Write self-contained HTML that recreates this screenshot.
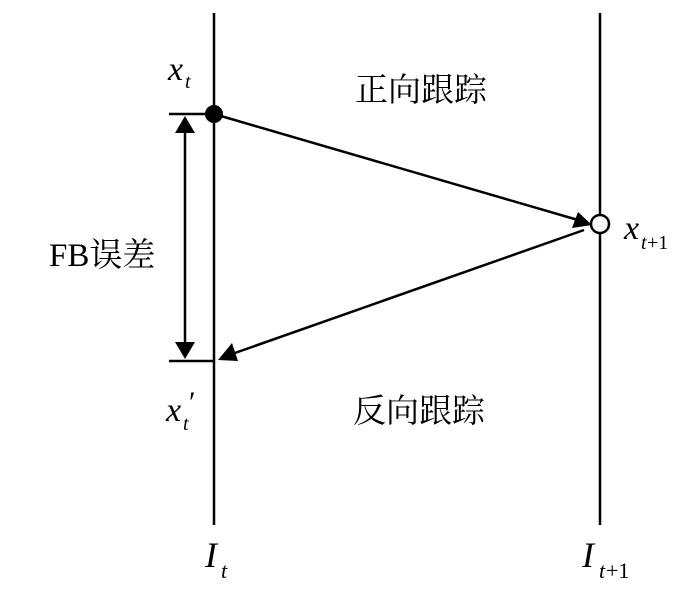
<!DOCTYPE html>
<html><head><meta charset="utf-8"><style>
html,body{margin:0;padding:0;background:#fff;}
svg{display:block;}
.t{font-family:"Liberation Serif","Noto Serif CJK SC",serif;fill:#000;}
.i{font-family:"Liberation Serif",serif;font-style:italic;fill:#000;}
</style></head><body>
<svg width="700" height="603" viewBox="0 0 700 603" xmlns="http://www.w3.org/2000/svg">
<g stroke="#000" stroke-width="2.5" fill="none">
<line x1="214" y1="13" x2="214" y2="525"/>
<line x1="600" y1="13" x2="600" y2="525"/>
<line x1="169" y1="114" x2="214" y2="114"/>
<line x1="169" y1="361" x2="214" y2="361"/>
<line x1="185" y1="128" x2="185" y2="347"/>
<line x1="214" y1="114" x2="578" y2="220"/>
<line x1="584" y1="230" x2="232" y2="354"/>
</g>
<circle cx="214" cy="114" r="9" fill="#000"/>
<circle cx="600" cy="224" r="9" fill="#fff" stroke="#000" stroke-width="2.5"/>
<polygon points="185,116 175,133 195,133" fill="#000"/>
<polygon points="185,359 175,342 195,342" fill="#000"/>
<polygon points="592,225 572,228 578,212" fill="#000"/>
<polygon points="218,360 232,343 238,361" fill="#000"/>
<text class="t" x="355" y="101" font-size="33">正向跟踪</text>
<text class="t" x="353" y="422" font-size="33">反向跟踪</text>
<text class="t" x="49" y="266" font-size="33">FB误差</text>
<text class="i" x="168" y="80" font-size="34">x</text>
<text class="i" x="185" y="88" font-size="20">t</text>
<text class="i" x="166" y="421" font-size="34">x</text>
<text class="i" x="183" y="430" font-size="20">t</text>
<text class="t" x="189" y="412" font-size="30">′</text>
<text class="i" x="624" y="239" font-size="34">x</text>
<text class="i" x="641" y="249" font-size="20">t</text>
<text class="t" x="647" y="249" font-size="20">+1</text>
<text class="i" x="205" y="567" font-size="36">I</text>
<text class="i" x="221" y="578" font-size="22">t</text>
<text class="i" x="582" y="567" font-size="36">I</text>
<text class="i" x="599" y="578" font-size="22">t</text>
<text class="t" x="606" y="578" font-size="22">+1</text>
</svg>
</body></html>
